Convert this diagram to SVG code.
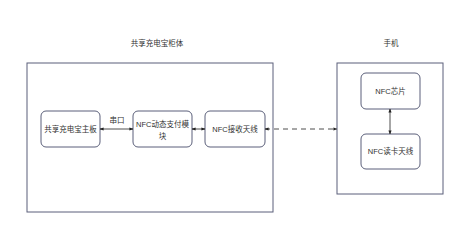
<svg xmlns="http://www.w3.org/2000/svg" width="470" height="227" viewBox="0 0 470 227">
<defs>
<marker id="ah" viewBox="0 0 10 10" refX="9" refY="5" markerWidth="5" markerHeight="5" orient="auto-start-reverse">
<path d="M0,1 L10,5 L0,9 z" fill="#222"/>
</marker>
<style>
.frame{fill:#fff;stroke:#5b5f7a;stroke-width:1}
.node{fill:#fff;stroke:#5b5f7a;stroke-width:1}
.t{font-family:"Liberation Sans","Noto Sans CJK SC",sans-serif;font-size:7.5px;fill:#333;text-anchor:middle;dominant-baseline:central}
.c{stroke:#222;stroke-width:0.8;fill:none;marker-start:url(#ah);marker-end:url(#ah)}
</style>
</defs>
<rect width="470" height="227" fill="#fff"/>
<g id="cabinet">
<rect class="frame" x="27" y="63" width="246" height="149"/>
<text class="t" x="157" y="43">共享充电宝柜体</text>
</g>
<g id="phone">
<rect class="frame" x="337" y="63" width="106" height="131"/>
<text class="t" x="391" y="43">手机</text>
</g>
<g id="mainboard">
<rect class="node" x="41" y="111" width="59" height="36" rx="5"/>
<text class="t" x="70.5" y="129">共享充电宝主板</text>
</g>
<g id="nfcpay">
<rect class="node" x="133" y="111" width="59" height="36" rx="5"/>
<text class="t" x="162.5" y="124">NFC动态支付模</text>
<text class="t" x="162.5" y="136">块</text>
</g>
<g id="nfcrecv">
<rect class="node" x="205" y="111" width="60" height="36" rx="5"/>
<text class="t" x="235" y="129">NFC接收天线</text>
</g>
<g id="nfcchip">
<rect class="node" x="361" y="73" width="59" height="36" rx="5"/>
<text class="t" x="390.5" y="91">NFC芯片</text>
</g>
<g id="nfcread">
<rect class="node" x="361" y="134" width="59" height="35" rx="5"/>
<text class="t" x="390.5" y="151.5">NFC读卡天线</text>
</g>
<g id="connectors">
<line class="c" x1="100" y1="129" x2="133" y2="129"/>
<text class="t" x="117" y="120">串口</text>
<line class="c" x1="192" y1="129" x2="205" y2="129"/>
<line class="c" x1="265" y1="129" x2="337" y2="129" stroke-dasharray="5,4"/>
<line class="c" x1="390" y1="109" x2="390" y2="134"/>
</g>
</svg>
